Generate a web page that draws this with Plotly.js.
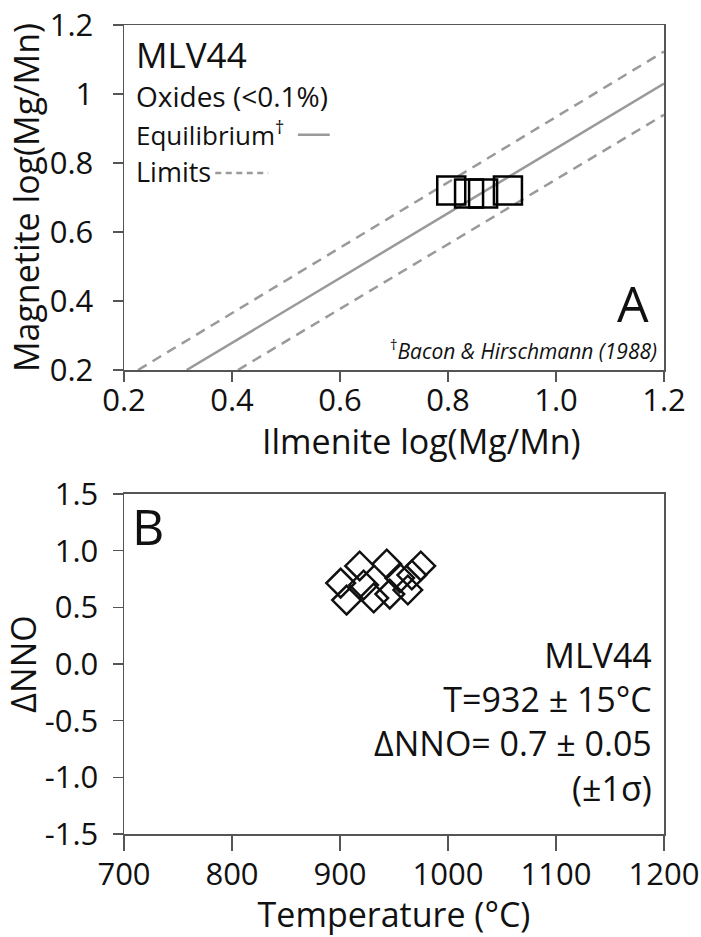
<!DOCTYPE html>
<html><head><meta charset="utf-8">
<script src="https://cdn.plot.ly/plotly-3.0.1.min.js"></script>
<style>html,body{margin:0;padding:0;background:#fff}#chart{width:701px;height:937px}</style>
</head><body><div id="chart"></div>
<script>
// ---------- Panel A: oxide equilibrium ----------
const ilmMgMn = [0.806, 0.839, 0.865, 0.911];
const magMgMn = [0.720, 0.712, 0.712, 0.720];
const eqX = [0.316, 1.2];
const eqY = [0.2, 1.03];
const upX = [0.226, 1.2];
const upY = [0.2, 1.123];
const loX = [0.411, 1.2];
const loY = [0.2, 0.94];
const aXTicks = [0.2, 0.4, 0.6, 0.8, 1.0, 1.2];
const aXTickText = ['0.2', '0.4', '0.6', '0.8', '1.0', '1.2'];
const aYTicks = [0.2, 0.4, 0.6, 0.8, 1.0, 1.2];
const aYTickText = ['0.2', '0.4', '0.6', '0.8', '1', '1.2'];

// ---------- Panel B: T vs dNNO ----------
const tempC = [900.6, 906.1, 918.2, 921.9, 931.2, 943.3, 946.1, 955.3, 962.8, 974.8, 966.5];
const dNNO  = [0.714, 0.564, 0.865, 0.697, 0.582, 0.882, 0.617, 0.759, 0.653, 0.865, 0.785];
const bXTicks = [700, 800, 900, 1000, 1100, 1200];
const bYTicks = [-1.5, -1.0, -0.5, 0.0, 0.5, 1.0, 1.5];
const bYTickText = ['-1.5', '-1.0', '-0.5', '0.0', '0.5', '1.0', '1.5'];
const bSummary = ['MLV44', 'T=932 ± 15°C', 'ΔNNO= 0.7 ± 0.05', '(±1σ)'];

const FONT = 'Open Sans, Noto Sans, sans-serif';
const AX = '#555';
const LINEGRAY = '#9a9a9a';
const TITLEFONT = {family: FONT, size: 34, color: '#111'};

function axis(extra) {
  return Object.assign({
    showline: true, linecolor: AX, linewidth: 1.5, mirror: true,
    ticks: 'outside', ticklen: 10, tickwidth: 1.5, tickcolor: AX,
    showgrid: false, zeroline: false,
    tickfont: {family: FONT, size: 31, color: '#111'}
  }, extra);
}

const traces = [
  {x: upX, y: upY, xaxis: 'x', yaxis: 'y', mode: 'lines', line: {color: LINEGRAY, width: 2.5, dash: '10px,7px'}, hoverinfo: 'skip'},
  {x: eqX, y: eqY, xaxis: 'x', yaxis: 'y', mode: 'lines', line: {color: LINEGRAY, width: 2.5}, hoverinfo: 'skip'},
  {x: loX, y: loY, xaxis: 'x', yaxis: 'y', mode: 'lines', line: {color: LINEGRAY, width: 2.5, dash: '10px,7px'}, hoverinfo: 'skip'},
  {x: ilmMgMn, y: magMgMn, xaxis: 'x', yaxis: 'y', mode: 'markers',
   marker: {symbol: 'square-open', size: 28, color: '#000', line: {width: 2.5, color: '#000'}}},
  {x: tempC, y: dNNO, xaxis: 'x2', yaxis: 'y2', mode: 'markers',
   marker: {symbol: 'diamond-open', size: 22, color: '#111', line: {width: 2.5, color: '#111'}}}
];

function ann(text, xref, yref, x, y, xanchor, size, extra) {
  return Object.assign({text: text, xref: xref, yref: yref, x: x, y: y, xanchor: xanchor, yanchor: 'middle',
    showarrow: false, font: {family: FONT, size: size, color: '#111'}}, extra || {});
}

const layout = {
  width: 701, height: 937,
  margin: {l: 124, r: 37, t: 25, b: 103},
  paper_bgcolor: '#fff', plot_bgcolor: '#fff',
  showlegend: false,
  xaxis: axis({domain: [0, 1], range: [0.2, 1.2], anchor: 'y', tickvals: aXTicks, ticktext: aXTickText,
    ticklabelstandoff: -8}),
  yaxis: axis({domain: [0.5735, 1], range: [0.2, 1.2], anchor: 'x', tickvals: aYTicks, ticktext: aYTickText,
    ticklabelstandoff: 13,
    title: {text: 'Magnetite log(Mg/Mn)', standoff: 0, font: TITLEFONT}}),
  xaxis2: axis({domain: [0, 1], range: [700, 1200], anchor: 'y2', tickvals: bXTicks, ticklen: 15,
    ticklabelstandoff: -3,
    title: {text: 'Temperature (°C)', standoff: 4, font: TITLEFONT}}),
  yaxis2: axis({domain: [0, 0.4203], range: [-1.5, 1.5], anchor: 'x2', tickvals: bYTicks, ticktext: bYTickText,
    ticklabelstandoff: 8,
    title: {text: 'ΔNNO', standoff: 2, font: TITLEFONT}}),
  shapes: [
    {type: 'line', xref: 'x domain', yref: 'y domain', x0: 0.322, x1: 0.381, y0: 0.682, y1: 0.682,
     line: {color: LINEGRAY, width: 2.5}},
    {type: 'line', xref: 'x domain', yref: 'y domain', x0: 0.169, x1: 0.267, y0: 0.571, y1: 0.571,
     line: {color: LINEGRAY, width: 2.5, dash: '6px,4.5px'}}
  ],
  annotations: [
    ann('Ilmenite log(Mg/Mn)', 'paper', 'paper', 0.55, 0.4858, 'center', 34, {height: 42}),
    ann('MLV44', 'x domain', 'y domain', 0.018, 0.914, 'left', 35),
    ann('Oxides (&lt;0.1%)', 'x domain', 'y domain', 0.018, 0.795, 'left', 28),
    ann('Equilibrium<sup>†</sup>', 'x domain', 'y domain', 0.018, 0.685, 'left', 26),
    ann('Limits', 'x domain', 'y domain', 0.018, 0.575, 'left', 27),
    ann('A', 'x domain', 'y domain', 0.976, 0.195, 'right', 50),
    ann('<sup>†</sup><i>Bacon &amp; Hirschmann (1988)</i>', 'x domain', 'y domain', 0.99, 0.06, 'right', 21),
    ann('B', 'x2 domain', 'y2 domain', 0.012, 0.905, 'left', 50),
    ann(bSummary.join('<br>'), 'x2 domain', 'y2 domain', 0.981, 0.332, 'right', 34, {align: 'right'})
  ]
};

Plotly.newPlot('chart', traces, layout, {displayModeBar: false, staticPlot: true});
</script>
</body></html>
